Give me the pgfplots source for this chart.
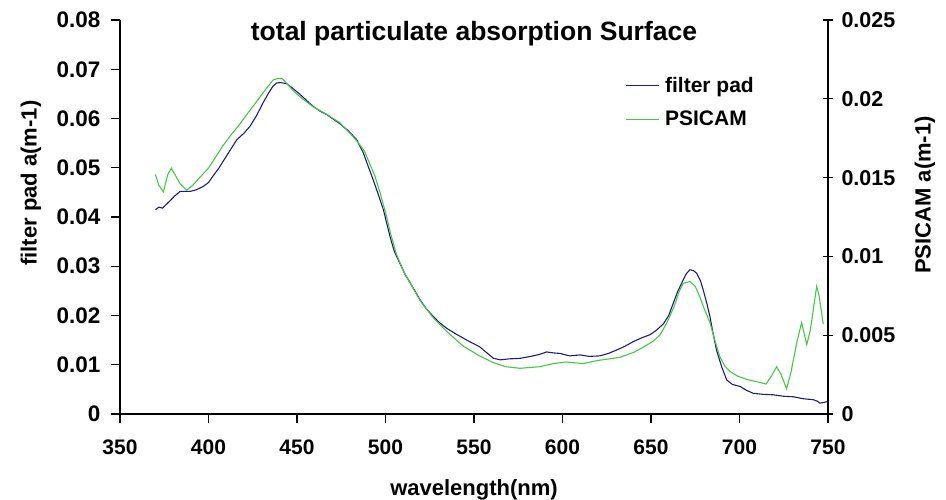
\documentclass[border=0pt]{standalone}
\usepackage{fontspec}
\setmainfont{Liberation Sans}
\usepackage{pgfplots}
\pgfplotsset{compat=1.18}
\definecolor{fpblue}{RGB}{30,30,120}
\definecolor{psgreen}{RGB}{70,200,70}
\begin{document}
\begin{tikzpicture}
\useasboundingbox (-120pt,-85pt) rectangle (826pt,414pt);
\begin{axis}[
  scale only axis, width=708pt, height=394pt,
  at={(0pt,0pt)}, anchor=south west,
  xmin=350, xmax=750, ymin=0, ymax=0.08,
  axis x line*=bottom, axis y line*=left,
  axis line style={-, line width=1.2pt, black},
  xtick={350,400,...,750},
  xticklabels={350,400,450,500,550,600,650,700,750},
  ytick={0,0.01,0.02,0.03,0.04,0.05,0.06,0.07,0.08},
  yticklabels={0,0.01,0.02,0.03,0.04,0.05,0.06,0.07,0.08},
  scaled y ticks=false, scaled x ticks=false,
  tick align=outside, major tick length=9pt,
  tick style={line width=1.2pt, black},
  tick label style={font=\fontsize{21}{21}\selectfont\bfseries},
  xticklabel style={yshift=-13pt},
  yticklabel style={xshift=-7pt, font=\fontsize{22.5}{22.5}\selectfont\bfseries},
  label style={font=\fontsize{22}{22}\selectfont\bfseries},
  xlabel={wavelength(nm)},
  xlabel style={at={(axis description cs:0.5,0)}, anchor=base, yshift=-81pt},
  ylabel={filter pad a(m-1)},
  ylabel style={at={(axis description cs:-0.1257,0.586)}, anchor=center},
]
\addplot[fpblue, line width=1.1pt] coordinates {
(370,0.0415) (372,0.0420) (374,0.0418) (378,0.0432) (381,0.0443) (384,0.0452)
(389.5,0.0452) (393,0.0455) (397,0.0462) (400,0.0470) (402.5,0.0483) (406,0.0500)
(410,0.0523) (413,0.0540) (416,0.0557) (420,0.0570) (423.4,0.0584) (427,0.0605)
(431,0.0633) (434,0.0652) (436.5,0.0666) (438.5,0.0672) (440.4,0.0673) (444,0.0671)
(447,0.0663) (451.7,0.0649) (455,0.0638) (459,0.0625) (463,0.0615) (466.8,0.0608)
(470,0.0600) (474,0.0590) (479,0.0575) (483.7,0.0557) (487.5,0.0530) (490,0.0505)
(493,0.0476) (496,0.0445) (498.8,0.0415) (502.5,0.0361) (505,0.0330) (508,0.0307)
(511,0.0284) (514,0.0266) (519.5,0.0232) (523,0.0214) (527,0.0198) (530,0.0187)
(534.6,0.0174) (540,0.0162) (544,0.0154) (548,0.0146) (553,0.0137) (557,0.0125)
(561,0.0113) (565,0.0110) (570,0.0112) (576,0.0113) (582,0.0117) (587,0.0121)
(591,0.0126) (595,0.0124) (598.6,0.0123) (604,0.0118) (610,0.0120) (615,0.0117)
(621,0.0118) (626,0.0123) (630.6,0.0130) (635,0.0137) (640,0.0147) (645,0.0155)
(649.4,0.0161) (653,0.0170) (657,0.0183) (660,0.0200) (662.6,0.0225) (665,0.0248)
(668.3,0.0273) (670,0.0285) (672,0.0293) (674,0.0291) (675.8,0.0286) (678,0.0270)
(679.5,0.0252) (681.5,0.0225) (683.3,0.0198) (685,0.0165) (687,0.0130) (690,0.0095)
(692.8,0.0069) (696,0.0060) (700.3,0.0056) (704,0.0048) (707.8,0.0042) (713,0.0040)
(719,0.0039) (725,0.0036) (730.4,0.0035) (736,0.0031) (741.7,0.0029) (744,0.0026)
(745.5,0.0022) (747,0.0023) (749.3,0.0025)
};
\node[font=\fontsize{26.5}{26.5}\selectfont\bfseries, anchor=base] at (rel axis cs:0.5,0.949) {total particulate absorption Surface};
\end{axis}
\begin{axis}[
  scale only axis, width=708pt, height=394pt,
  at={(0pt,0pt)}, anchor=south west,
  xmin=350, xmax=750, ymin=0, ymax=0.025,
  axis x line=none, axis y line*=right,
  axis line style={-, line width=1.2pt, black},
  ytick={0,0.005,0.01,0.015,0.02,0.025},
  yticklabels={0,0.005,0.01,0.015,0.02,0.025},
  scaled y ticks=false,
  tick align=center, major tick length=10pt,
  tick style={line width=1.2pt, black},
  tick label style={font=\fontsize{21.5}{21.5}\selectfont\bfseries},
  yticklabel style={xshift=5pt},
  label style={font=\fontsize{22}{22}\selectfont\bfseries},
  ylabel={PSICAM a(m-1)},
  ylabel style={at={(axis description cs:1.137,0.556)}, anchor=center},
  legend style={draw=none, fill=none, at={(rel axis cs:0.713,0.86)}, anchor=north west,
    font=\fontsize{21}{21}\selectfont\bfseries, row sep=13pt, inner sep=0pt},
  legend cell align=left,
  legend image code/.code={\draw[#1] (0pt,0pt) -- (33pt,0pt); \path (37pt,0pt);},
]
\addlegendimage{fpblue, line width=1.1pt}
\addlegendentry{filter pad}
\addplot[psgreen, line width=1.1pt] coordinates {
(370,0.0152) (372,0.0145) (374.5,0.0141) (377,0.0152) (379,0.0156) (381,0.0152)
(384,0.0146) (387.7,0.0142) (391,0.0145) (395,0.0150) (400,0.0156) (404.6,0.0164)
(408,0.0170) (412,0.0176) (417,0.0183) (421.6,0.0190) (425,0.0195) (429,0.0201)
(433,0.0207) (436.6,0.0212) (439.4,0.0213) (441.5,0.0213) (444,0.0210) (448,0.0205)
(452,0.0201) (459,0.0195) (467,0.0190) (474,0.0185) (480,0.0178) (484,0.0173)
(488,0.0167) (491,0.0159) (494,0.0151) (497,0.0140) (500,0.0128) (503,0.0114)
(506,0.0102) (510,0.0091) (514,0.0083) (519.5,0.0072) (527,0.0061) (535,0.0052)
(544,0.0043) (553,0.0037) (560,0.0033) (568,0.0030) (576,0.0029) (587,0.0030)
(595,0.0032) (602,0.0033) (611.7,0.0032) (620,0.0034) (626.8,0.0035) (632.5,0.0036)
(640,0.0039) (645,0.0042) (651,0.0046) (655,0.0050) (659,0.0058) (663,0.0068)
(666,0.0078) (668.3,0.0083) (672,0.0084) (675,0.0081) (677.7,0.0074) (680,0.0067)
(683.3,0.0058) (686,0.0047) (689,0.0036) (692,0.0030) (694.6,0.0027) (699,0.0024)
(704,0.0022) (711.6,0.0020) (715,0.0019) (718,0.0024) (721,0.0030) (723.5,0.0025)
(726.6,0.0016) (729,0.0026) (732.3,0.0045) (735.1,0.0058) (738,0.0044) (740,0.0053)
(743.6,0.0081) (745,0.0075) (747.3,0.0057)
};
\addlegendentry{PSICAM}
\end{axis}
\end{tikzpicture}
\end{document}
